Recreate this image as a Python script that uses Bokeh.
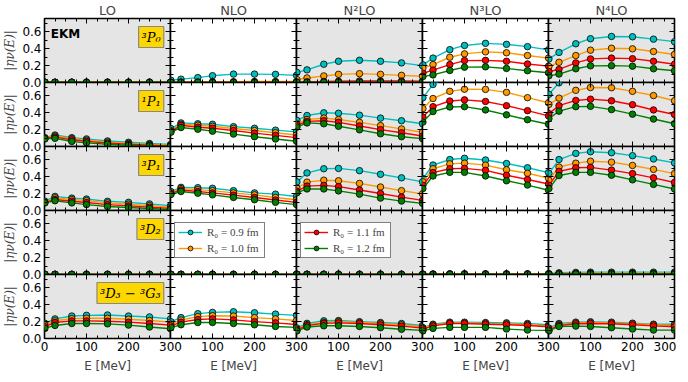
from bokeh.plotting import figure
from bokeh.layouts import row as brow, column as bcol
from bokeh.models import (Range1d, FixedTicker, LinearAxis, PrintfTickFormatter,
                          Label, Legend, LegendItem, ColumnDataSource,
                          CustomLabelingPolicy, InlineStyleSheet)
from bokeh.embed import file_html
from bokeh.resources import INLINE

# ---------------- data ----------------
energy = [1, 25, 65, 100, 150, 200, 250, 300]
orders = ["LO", "NLO", "N²LO", "N³LO", "N⁴LO"]
waves = ["³P₀", "¹P₁", "³P₁", "³D₂", "³D₃ − ³G₃"]
cutoff_labels = ["R₀ = 0.9 fm", "R₀ = 1.0 fm", "R₀ = 1.1 fm", "R₀ = 1.2 fm"]
cutoff_colors = ["#00BFBF", "#FF9900", "#FF0000", "#008000"]

# each panel: series for R0 = 0.9, 1.0, 1.1, 1.2 fm
eta_3P0_LO = [[0.003] * 8, [0.003] * 8, [0.003] * 8, [0.003] * 8]
eta_3P0_NLO = [[0.027, 0.04, 0.058, 0.081, 0.10, 0.10, 0.097, 0.085],
               [0.003, 0.005, 0.007, 0.008, 0.010, 0.012, 0.012, 0.012],
               [0.002, 0.003, 0.003, 0.004, 0.004, 0.004, 0.004, 0.004],
               [0.001, 0.002, 0.002, 0.002, 0.002, 0.002, 0.002, 0.002]]
eta_3P0_N2LO = [[0.12, 0.15, 0.217, 0.252, 0.264, 0.252, 0.233, 0.20],
                [0.035, 0.054, 0.078, 0.097, 0.105, 0.097, 0.085, 0.074],
                [0.005, 0.008, 0.012, 0.015, 0.018, 0.018, 0.017, 0.015],
                [0.002, 0.003, 0.004, 0.005, 0.005, 0.005, 0.005, 0.004]]
eta_3P0_N3LO = [[0.21, 0.29, 0.39, 0.44, 0.465, 0.453, 0.426, 0.388],
                [0.17, 0.213, 0.30, 0.34, 0.364, 0.353, 0.32, 0.29],
                [0.11, 0.147, 0.213, 0.26, 0.263, 0.252, 0.22, 0.194],
                [0.07, 0.09, 0.143, 0.182, 0.186, 0.167, 0.14, 0.116]]
eta_3P0_N4LO = [[0.28, 0.357, 0.46, 0.52, 0.547, 0.543, 0.515, 0.485],
                [0.19, 0.24, 0.32, 0.384, 0.407, 0.40, 0.368, 0.333],
                [0.13, 0.155, 0.233, 0.28, 0.29, 0.283, 0.252, 0.217],
                [0.08, 0.10, 0.163, 0.198, 0.20, 0.194, 0.163, 0.14]]

eta_1P1_LO = [[0.105, 0.136, 0.105, 0.09, 0.066, 0.05, 0.035, 0.023],
              [0.10, 0.124, 0.093, 0.075, 0.052, 0.037, 0.025, 0.015],
              [0.095, 0.112, 0.08, 0.062, 0.04, 0.026, 0.015, 0.008],
              [0.09, 0.097, 0.06, 0.043, 0.027, 0.015, 0.008, 0.004]]
eta_1P1_NLO = [[0.213, 0.28, 0.27, 0.264, 0.236, 0.217, 0.194, 0.174],
               [0.19, 0.264, 0.252, 0.24, 0.213, 0.19, 0.163, 0.136],
               [0.18, 0.252, 0.229, 0.217, 0.19, 0.159, 0.132, 0.105],
               [0.17, 0.225, 0.205, 0.182, 0.147, 0.116, 0.089, 0.062]]
eta_1P1_N2LO = [[0.31, 0.368, 0.40, 0.395, 0.372, 0.337, 0.306, 0.27],
                [0.27, 0.32, 0.337, 0.32, 0.287, 0.248, 0.209, 0.17],
                [0.25, 0.298, 0.306, 0.287, 0.244, 0.20, 0.163, 0.124],
                [0.23, 0.28, 0.27, 0.24, 0.198, 0.151, 0.116, 0.093]]
eta_1P1_N3LO = [[0.58, 0.736, 0.85, 0.90, 0.92, 0.90, 0.86, 0.80],
                [0.45, 0.57, 0.655, 0.68, 0.678, 0.643, 0.58, 0.52],
                [0.35, 0.473, 0.54, 0.554, 0.535, 0.485, 0.426, 0.364],
                [0.29, 0.415, 0.469, 0.473, 0.434, 0.376, 0.318, 0.264]]
eta_1P1_N4LO = [[0.62, 0.756, 0.88, 0.93, 0.95, 0.93, 0.90, 0.85],
                [0.50, 0.574, 0.667, 0.70, 0.698, 0.655, 0.605, 0.543],
                [0.39, 0.485, 0.547, 0.562, 0.543, 0.496, 0.434, 0.38],
                [0.33, 0.42, 0.473, 0.477, 0.438, 0.384, 0.326, 0.27]]

eta_3P1_LO = [[0.11, 0.167, 0.147, 0.136, 0.109, 0.097, 0.078, 0.058],
              [0.10, 0.15, 0.13, 0.117, 0.09, 0.075, 0.058, 0.04],
              [0.095, 0.13, 0.11, 0.095, 0.07, 0.055, 0.04, 0.025],
              [0.09, 0.116, 0.09, 0.07, 0.047, 0.035, 0.023, 0.012]]
eta_3P1_NLO = [[0.225, 0.275, 0.271, 0.264, 0.236, 0.209, 0.194, 0.167],
               [0.21, 0.26, 0.248, 0.236, 0.209, 0.186, 0.155, 0.128],
               [0.20, 0.244, 0.225, 0.209, 0.182, 0.155, 0.124, 0.097],
               [0.19, 0.225, 0.205, 0.186, 0.155, 0.128, 0.097, 0.07]]
eta_3P1_N2LO = [[0.34, 0.446, 0.496, 0.50, 0.473, 0.43, 0.388, 0.34],
                [0.264, 0.337, 0.36, 0.353, 0.322, 0.279, 0.236, 0.198],
                [0.23, 0.29, 0.298, 0.283, 0.244, 0.202, 0.159, 0.12],
                [0.21, 0.256, 0.256, 0.233, 0.194, 0.147, 0.112, 0.085]]
eta_3P1_N3LO = [[0.38, 0.54, 0.605, 0.62, 0.60, 0.558, 0.508, 0.45],
                [0.34, 0.496, 0.554, 0.562, 0.539, 0.484, 0.442, 0.384],
                [0.30, 0.45, 0.496, 0.50, 0.477, 0.419, 0.368, 0.314],
                [0.26, 0.41, 0.453, 0.453, 0.41, 0.353, 0.302, 0.24]]
eta_3P1_N4LO = [[0.44, 0.605, 0.678, 0.698, 0.686, 0.651, 0.612, 0.566],
                [0.36, 0.516, 0.562, 0.585, 0.574, 0.535, 0.488, 0.438],
                [0.30, 0.465, 0.508, 0.512, 0.48, 0.438, 0.388, 0.333],
                [0.26, 0.415, 0.453, 0.453, 0.419, 0.364, 0.31, 0.256]]

eta_3D2_LO = [[0.002] * 8, [0.002] * 8, [0.002] * 8, [0.002] * 8]
eta_3D2_NLO = [[0.002] * 8, [0.002] * 8, [0.002] * 8, [0.002] * 8]
eta_3D2_N2LO = [[0.003] * 8, [0.003] * 8, [0.002] * 8, [0.002] * 8]
eta_3D2_N3LO = [[0.004, 0.006, 0.008, 0.008, 0.008, 0.008, 0.008, 0.008],
                [0.003, 0.005, 0.006, 0.006, 0.006, 0.006, 0.006, 0.006],
                [0.002, 0.003, 0.004, 0.004, 0.004, 0.004, 0.004, 0.004],
                [0.002, 0.002, 0.003, 0.003, 0.003, 0.003, 0.003, 0.003]]
eta_3D2_N4LO = [[0.01, 0.02, 0.025, 0.028, 0.028, 0.028, 0.028, 0.028],
                [0.006, 0.012, 0.015, 0.016, 0.016, 0.016, 0.016, 0.016],
                [0.004, 0.008, 0.01, 0.01, 0.01, 0.01, 0.01, 0.01],
                [0.003, 0.005, 0.006, 0.006, 0.006, 0.006, 0.006, 0.006]]

eta_3D3_LO = [[0.18, 0.233, 0.267, 0.275, 0.279, 0.267, 0.256, 0.233],
              [0.16, 0.21, 0.236, 0.24, 0.24, 0.229, 0.213, 0.194],
              [0.14, 0.19, 0.209, 0.209, 0.205, 0.194, 0.178, 0.159],
              [0.12, 0.155, 0.178, 0.178, 0.174, 0.159, 0.136, 0.116]]
eta_3D3_NLO = [[0.20, 0.248, 0.295, 0.31, 0.318, 0.306, 0.29, 0.275],
               [0.17, 0.22, 0.26, 0.271, 0.267, 0.248, 0.233, 0.213],
               [0.15, 0.194, 0.225, 0.233, 0.221, 0.20, 0.186, 0.167],
               [0.13, 0.163, 0.19, 0.19, 0.178, 0.163, 0.143, 0.132]]
eta_3D3_N2LO = [[0.124, 0.18, 0.21, 0.213, 0.20, 0.19, 0.178, 0.155],
                [0.11, 0.165, 0.19, 0.20, 0.19, 0.178, 0.163, 0.14],
                [0.10, 0.155, 0.18, 0.186, 0.178, 0.163, 0.147, 0.124],
                [0.09, 0.136, 0.151, 0.151, 0.143, 0.128, 0.109, 0.097]]
eta_3D3_N3LO = [[0.13, 0.17, 0.194, 0.194, 0.19, 0.186, 0.178, 0.163],
                [0.12, 0.16, 0.186, 0.186, 0.18, 0.175, 0.167, 0.15],
                [0.11, 0.15, 0.178, 0.178, 0.17, 0.163, 0.155, 0.14],
                [0.09, 0.12, 0.132, 0.132, 0.132, 0.112, 0.10, 0.097]]
eta_3D3_N4LO = [[0.124, 0.178, 0.194, 0.198, 0.194, 0.182, 0.17, 0.17],
                [0.11, 0.167, 0.186, 0.19, 0.186, 0.175, 0.163, 0.155],
                [0.10, 0.155, 0.175, 0.178, 0.175, 0.163, 0.15, 0.14],
                [0.09, 0.143, 0.147, 0.143, 0.128, 0.112, 0.10, 0.10]]

panel_data = [
    [eta_3P0_LO, eta_3P0_NLO, eta_3P0_N2LO, eta_3P0_N3LO, eta_3P0_N4LO],
    [eta_1P1_LO, eta_1P1_NLO, eta_1P1_N2LO, eta_1P1_N3LO, eta_1P1_N4LO],
    [eta_3P1_LO, eta_3P1_NLO, eta_3P1_N2LO, eta_3P1_N3LO, eta_3P1_N4LO],
    [eta_3D2_LO, eta_3D2_NLO, eta_3D2_N2LO, eta_3D2_N3LO, eta_3D2_N4LO],
    [eta_3D3_LO, eta_3D3_NLO, eta_3D3_N2LO, eta_3D3_N3LO, eta_3D3_N4LO],
]

# ---------------- layout / style ----------------
FW, FH = 126, 64
LEFT = 38
PADX, PADY = 14, 8
SANS = "DejaVu Sans"
SERIF = "DejaVu Serif"

HIDE_ALL = "for (const i of [...indices]) { indices.unset(i) } return indices"
HIDE_FIRST = "indices.unset(0); return indices"


def style_axis(ax, show):
    ax.major_tick_in = 5
    ax.major_tick_out = 0
    ax.minor_tick_in = 3
    ax.minor_tick_out = 0
    ax.major_tick_line_color = "black"
    ax.minor_tick_line_color = "black"
    ax.major_tick_line_width = 1
    ax.minor_tick_line_width = 1
    ax.axis_line_color = None
    ax.major_label_text_font = SANS
    ax.major_label_text_color = "black"
    if show:
        ax.major_label_text_font_size = "12px"
        ax.major_label_standoff = 3
    else:
        ax.major_label_text_font_size = "0px"
        ax.major_label_standoff = 0
        ax.major_label_policy = CustomLabelingPolicy(code=HIDE_ALL)


row_layouts = []
for i, wave in enumerate(waves):
    figs = []
    for j, order in enumerate(orders):
        mt = -PADY if i > 0 else 0
        mb = -PADY if i < 4 else 0
        ml = -PADX if j > 0 else 0
        mr = -PADX if j < 4 else 0
        css = InlineStyleSheet(css=":host { margin: %dpx %dpx %dpx %dpx !important; }"
                               % (mt, mr, mb, ml))
        p = figure(frame_width=FW, frame_height=FH,
                   x_range=Range1d(0, 300), y_range=Range1d(0, 0.76),
                   output_backend="svg", toolbar_location=None,
                   x_axis_location=None, y_axis_location=None,
                   min_border_left=LEFT if j == 0 else PADX,
                   min_border_right=PADX if j < 4 else 2,
                   min_border_top=0 if i == 0 else PADY,
                   min_border_bottom=PADY if i < 4 else 0,
                   title=order if i == 0 else None,
                   stylesheets=[css])
        p.background_fill_color = "#E5E5E5" if j % 2 == 0 else "white"
        p.border_fill_alpha = 0
        p.outline_line_color = "black"
        p.outline_line_width = 1.6
        p.grid.visible = False
        if i == 0:
            p.title.align = "center"
            p.title.text_font = SANS
            p.title.text_font_size = "13px"
            p.title.text_font_style = "normal"
            p.title.standoff = 1

        for side in ("below", "above", "left", "right"):
            if side in ("below", "above"):
                ticker = FixedTicker(ticks=[0, 100, 200, 300],
                                     minor_ticks=[25, 50, 75, 125, 150, 175, 225, 250, 275])
                show = (side == "below" and i == 4)
            else:
                ticker = FixedTicker(ticks=[0, 0.2, 0.4, 0.6],
                                     minor_ticks=[0.1, 0.3, 0.5, 0.7])
                show = (side == "left" and j == 0)
            ax = LinearAxis(ticker=ticker)
            style_axis(ax, show)
            if side in ("left", "right"):
                ax.formatter = PrintfTickFormatter(format="%.1f")
            if side == "below" and show:
                if j > 0:
                    ax.major_label_policy = CustomLabelingPolicy(code=HIDE_FIRST)
                ax.axis_label = "E [MeV]"
                ax.axis_label_text_font = SANS
                ax.axis_label_text_font_size = "12px"
                ax.axis_label_text_font_style = "normal"
                ax.axis_label_standoff = 5
            if side == "left" and show:
                ax.axis_label = "|ην(E)|"
                ax.axis_label_text_font = SERIF
                ax.axis_label_text_font_size = "12px"
                ax.axis_label_text_font_style = "italic"
                ax.axis_label_standoff = 2
            p.add_layout(ax, side)

        series = panel_data[i][j]
        items = []
        for k in range(4):
            src = ColumnDataSource(data=dict(energy=energy, eta=series[k]))
            lr = p.line("energy", "eta", source=src, line_color=cutoff_colors[k],
                        line_width=1.4)
            sr = p.scatter("energy", "eta", source=src, marker="circle", size=6.5,
                           fill_color=cutoff_colors[k], line_color="black",
                           line_width=0.8)
            items.append(LegendItem(label=cutoff_labels[k], renderers=[lr, sr]))

        if j == 0:
            p.add_layout(Label(x=284, y=0.665, text=wave, text_align="right",
                               text_baseline="top", text_font=SERIF,
                               text_font_style="italic", text_font_size="13px",
                               text_color="black",
                               background_fill_color="#FFD700",
                               border_line_color="#888888", border_line_width=1.2,
                               padding=3))
        if i == 0 and j == 0:
            p.add_layout(Label(x=15, y=0.665, text="EKM", text_baseline="top",
                               text_font=SANS, text_font_style="bold",
                               text_font_size="12px", text_color="black"))
        if i == 3 and j in (1, 2):
            sel = items[0:2] if j == 1 else items[2:4]
            leg = Legend(items=sel, location=(4, 16), margin=0, padding=3,
                         spacing=4, glyph_height=12, glyph_width=24,
                         label_height=12, label_width=54, label_standoff=5,
                         label_text_font="Liberation Serif",
                         label_text_font_size="11px",
                         border_line_color="black", border_line_width=1.5,
                         background_fill_color="white", background_fill_alpha=1)
            p.add_layout(leg)
        figs.append(p)
    row_layouts.append(brow(*figs, spacing=0))

layout = bcol(*row_layouts, spacing=0)

open("out.html", "w").write(file_html(layout, INLINE))
